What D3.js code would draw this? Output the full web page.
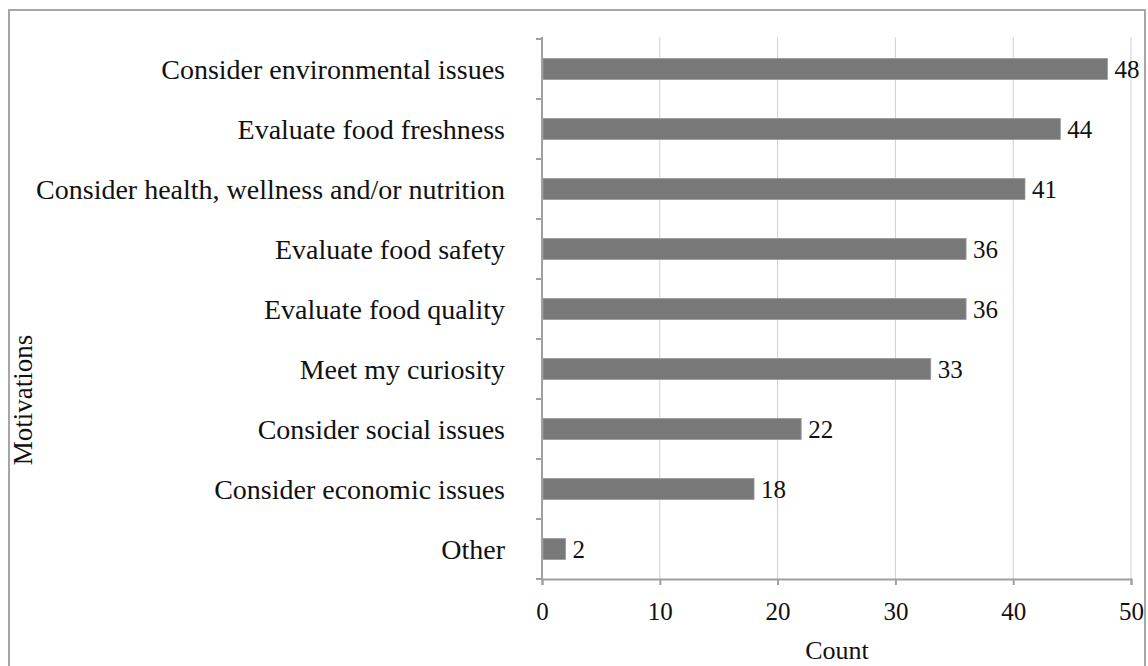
<!DOCTYPE html>
<html lang="en">
<head>
<meta charset="UTF-8">
<title>Motivations</title>
<script src="https://d3js.org/d3.v7.min.js"></script>
<style>
  body { margin: 0; background: #fff; }
  text { font-family: "Liberation Serif", "Times New Roman", serif; fill: #111; }
</style>
</head>
<body>
<svg width="1148" height="666"></svg>
<script>
// data
var motivations = [
  "Consider environmental issues",
  "Evaluate food freshness",
  "Consider health, wellness and/or nutrition",
  "Evaluate food safety",
  "Evaluate food quality",
  "Meet my curiosity",
  "Consider social issues",
  "Consider economic issues",
  "Other"
];
var counts = [48, 44, 41, 36, 36, 33, 22, 18, 2];
var xTicks = [0, 10, 20, 30, 40, 50];

var margin = {top: 39, left: 542, right: 17, bottom: 86};

var svg = d3.select("svg");

// outer frame
svg.append("rect")
  .attr("x", 9).attr("y", 10)
  .attr("width", 1136).attr("height", 700)
  .attr("fill", "none")
  .attr("stroke", "#a6a6a6")
  .attr("stroke-width", 2);

var g = svg.append("g")
  .attr("transform", "translate(" + margin.left + "," + margin.top + ")");

var x = d3.scaleLinear().domain([0, 50]).range([0, 589]);
var y = d3.scaleBand().domain(motivations).range([0, 540]).paddingInner(0.65).paddingOuter(0.325);

// gridlines
g.selectAll(".grid")
  .data(xTicks.slice(1))
  .enter().append("line")
  .attr("x1", function(d) { return x(d); })
  .attr("x2", function(d) { return x(d); })
  .attr("y1", -2).attr("y2", 540)
  .attr("stroke", "#d0d0d0")
  .attr("stroke-width", 1);

// bars
g.selectAll(".bar")
  .data(counts)
  .enter().append("rect")
  .attr("x", x(0) + 1)
  .attr("y", function(d, i) { return y(motivations[i]); })
  .attr("width", function(d) { return x(d) - 1; })
  .attr("height", y.bandwidth())
  .attr("fill", "#787878")
  .attr("stroke", "#9a9a9a")
  .attr("stroke-width", 0.8);

// value labels
g.selectAll(".val")
  .data(counts)
  .enter().append("text")
  .attr("x", function(d) { return x(d) + 7; })
  .attr("y", function(d, i) { return y(motivations[i]) + y.bandwidth() / 2; })
  .attr("dy", "0.35em")
  .style("font-size", "25px")
  .text(function(d) { return d; });

// y axis (ticks between categories)
var step = 540 / motivations.length;
g.append("line")
  .attr("x1", 0).attr("x2", 0).attr("y1", -2).attr("y2", 540)
  .attr("stroke", "#a0a0a0").attr("stroke-width", 2);
g.selectAll(".ytick")
  .data(d3.range(motivations.length + 1))
  .enter().append("line")
  .attr("x1", -6).attr("x2", 0)
  .attr("y1", function(d) { return d * step; })
  .attr("y2", function(d) { return d * step; })
  .attr("stroke", "#a0a0a0").attr("stroke-width", 2);

g.selectAll(".ylab")
  .data(motivations)
  .enter().append("text")
  .attr("x", -37)
  .attr("y", function(d) { return y(d) + y.bandwidth() / 2; })
  .attr("dy", "0.35em")
  .attr("text-anchor", "end")
  .style("font-size", "28px")
  .text(function(d) { return d; });

// x axis
var xAxis = g.append("g")
  .attr("transform", "translate(0," + 540 + ")")
  .call(d3.axisBottom(x).tickValues(xTicks).tickSize(6).tickPadding(17));
xAxis.select(".domain").attr("stroke", "#a0a0a0").attr("stroke-width", 2);
xAxis.selectAll(".tick line").attr("stroke", "#a0a0a0").attr("stroke-width", 2);
xAxis.selectAll(".tick text")
  .style("font-size", "25px")
  .style("font-family", "Liberation Serif, serif")
  .attr("fill", "#111");

// axis titles
svg.append("text")
  .attr("x", 837).attr("y", 659)
  .attr("text-anchor", "middle")
  .style("font-size", "26px")
  .text("Count");

svg.append("text")
  .attr("transform", "translate(32,400) rotate(-90)")
  .attr("text-anchor", "middle")
  .style("font-size", "27px")
  .text("Motivations");
</script>
</body>
</html>
